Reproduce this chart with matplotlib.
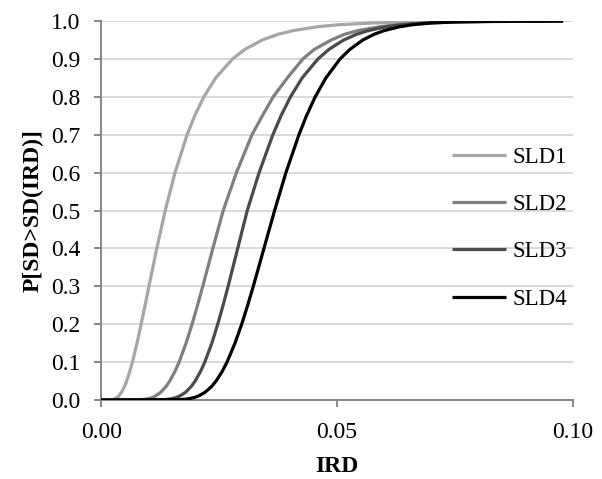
import matplotlib.pyplot as plt

# probability levels, shared by all curves
prob = [0.0, 0.001, 0.003, 0.006, 0.01, 0.02, 0.035, 0.05, 0.075, 0.1, 0.15, 0.2, 0.25, 0.3, 0.4, 0.5,
        0.6, 0.7, 0.75, 0.8, 0.85, 0.9, 0.925, 0.95, 0.965, 0.975, 0.985, 0.99, 0.995, 0.998, 0.9995, 1.0]

# IRD value where each curve reaches the probability above
ird_sld1 = [0.0, 0.00241, 0.00292, 0.00333, 0.0037, 0.00431, 0.00493, 0.00541, 0.00607, 0.00664,
            0.00761, 0.00849, 0.00932, 0.01014, 0.0118, 0.0136,
            0.01567, 0.01824, 0.01984, 0.02179, 0.02429, 0.02788, 0.03046, 0.03416, 0.03752,
            0.04076, 0.04585, 0.05003, 0.05755, 0.06815, 0.0859, 0.098]
ird_sld2 = [0.0, 0.00878, 0.0099, 0.01075, 0.01148, 0.01262, 0.01374, 0.01456, 0.01565, 0.01654,
            0.01802, 0.01929, 0.02045, 0.02156, 0.0237, 0.0259,
            0.0287, 0.032, 0.0342, 0.0365, 0.0395, 0.0428, 0.0452, 0.0488, 0.0516,
            0.0545, 0.0591, 0.0627, 0.0689, 0.0773, 0.0904, 0.098]
ird_sld3 = [0.0, 0.01354, 0.01484, 0.01581, 0.01662, 0.01788, 0.01907, 0.01995, 0.02107, 0.02199,
            0.02349, 0.02474, 0.02587, 0.02694, 0.02897, 0.031,
            0.03351, 0.03643, 0.03816, 0.04017, 0.04265, 0.046, 0.0483, 0.05145, 0.05417,
            0.0567, 0.06048, 0.06346, 0.06854, 0.07522, 0.08542, 0.098]
ird_sld4 = [0.0, 0.017, 0.01851, 0.01964, 0.02057, 0.02202, 0.02339, 0.02439, 0.02567, 0.02671,
            0.0284, 0.02982, 0.03109, 0.03228, 0.03454, 0.0368,
            0.0392, 0.04196, 0.04356, 0.04541, 0.04768, 0.05068, 0.05275, 0.05551, 0.05789,
            0.06007, 0.06334, 0.06584, 0.07005, 0.07557, 0.08375, 0.098]

labels = ['SLD1', 'SLD2', 'SLD3', 'SLD4']
colors = ['#a6a6a6', '#7f7f7f', '#4a4a4a', '#000000']
x_ticks = [0.0, 0.05, 0.10]
y_ticks = [0.0, 0.1, 0.2, 0.3, 0.4, 0.5, 0.6, 0.7, 0.8, 0.9, 1.0]

plt.rcParams['font.family'] = ['Liberation Serif', 'DejaVu Serif']

fig = plt.figure(figsize=(6.02, 4.79), dpi=100)
ax = fig.add_axes([0.168, 0.165, 0.783, 0.791])

for ird, lab, col in zip([ird_sld1, ird_sld2, ird_sld3, ird_sld4], labels, colors):
    ax.plot(ird, prob, color=col, lw=2.3, label=lab, solid_capstyle='butt', zorder=3)

ax.set_xlim(0, 0.10)
ax.set_ylim(0, 1.0)
ax.set_xticks(x_ticks)
ax.set_xticklabels(['%.2f' % v for v in x_ticks])
ax.set_yticks(y_ticks)
ax.set_yticklabels(['%.1f' % v for v in y_ticks])

ax.grid(axis='y', color='#d9d9d9', lw=1.4, zorder=0)
ax.set_axisbelow(True)
for side in ['top', 'right']:
    ax.spines[side].set_visible(False)
for side in ['left', 'bottom']:
    ax.spines[side].set_color('#868686')
    ax.spines[side].set_linewidth(1.4)
ax.tick_params(axis='both', direction='out', length=5, width=1.4, color='#868686',
               labelsize=17, labelcolor='black')
ax.tick_params(axis='x', pad=11)
ax.tick_params(axis='y', pad=10)

ax.set_xlabel('IRD', fontsize=17, fontweight='bold', labelpad=9)
ax.set_ylabel('P[SD>SD(IRD)]', fontsize=17, fontweight='bold', labelpad=5)

ax.legend(loc='upper left', bbox_to_anchor=(0.745, 0.669), frameon=False, fontsize=16.5,
          handlelength=2.36, handletextpad=0.26, labelspacing=1.15, borderpad=0,
          borderaxespad=0)

fig.savefig('out.png', dpi=100)
